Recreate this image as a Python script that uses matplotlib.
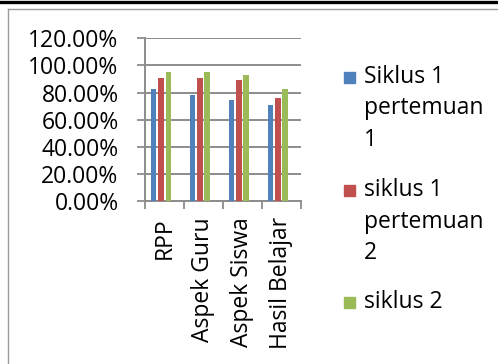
import numpy as np
import matplotlib.pyplot as plt
from matplotlib.lines import Line2D
from matplotlib.patches import Rectangle
from matplotlib.ticker import FuncFormatter

# Data
categories = ['RPP', 'Aspek Guru', 'Aspek Siswa', 'Hasil Belajar']
series_names = ['Siklus 1 pertemuan 1', 'siklus 1 pertemuan 2', 'siklus 2']
legend_lines = [['Siklus 1', 'pertemuan', '1'],
                ['siklus 1', 'pertemuan', '2'],
                ['siklus 2']]
s1p1 = [0.825, 0.785, 0.745, 0.71]
s1p2 = [0.91, 0.91, 0.89, 0.763]
s2 = [0.952, 0.952, 0.932, 0.825]
yticks = [0.0, 0.2, 0.4, 0.6, 0.8, 1.0, 1.2]

colors = ['#4F81BD', '#C0504D', '#9BBB59']
grid_col = '#8C8C8C'
W, H = 498, 364
fs = 16.5

plt.rcParams['font.family'] = ['Open Sans', 'DejaVu Sans']

fig = plt.figure(figsize=(W / 100, H / 100), dpi=100)
fig.patch.set_facecolor('white')

# plot area in pixel coords
x0, x1 = 145, 300.7
y0, y1 = 201.3, 38.3
ax = fig.add_axes([x0 / W, (H - y0) / H, (x1 - x0) / W, (y0 - y1) / H])

x = np.arange(len(categories))
offsets = [-0.278, -0.09, 0.10]
bw = 0.146
for vals, off, c in zip([s1p1, s1p2, s2], offsets, colors):
    ax.bar(x + off, vals, bw, color=c, zorder=3)

ax.set_xlim(-0.5, len(categories) - 0.5)
ax.set_ylim(0, 1.2)
ax.set_yticks(yticks)
ax.yaxis.set_major_formatter(FuncFormatter(lambda v, p: f'{v * 100:.2f}%'))
ax.set_xticks(np.arange(len(categories) + 1) - 0.5)
ax.set_xticklabels([])
ax.set_xticks(x, minor=True)
ax.set_xticklabels(categories, minor=True, rotation=90, fontsize=fs)
ax.tick_params(axis='x', which='minor', length=0, pad=11.5)
ax.tick_params(axis='x', which='major', length=6, width=1.3, color=grid_col)
ax.tick_params(axis='y', length=6, width=1.3, color=grid_col, pad=13, labelsize=fs)
ax.grid(axis='y', color=grid_col, linewidth=1.4, zorder=0)
for s in ['top', 'right']:
    ax.spines[s].set_visible(False)
for s in ['left', 'bottom']:
    ax.spines[s].set_color(grid_col)
    ax.spines[s].set_linewidth(1.4)

# outer frame
fig.add_artist(Line2D([0, 1], [(H - 1.5) / H] * 2, color='black', lw=2.4))
fig.add_artist(Line2D([8.3 / W, 1], [(H - 9) / H] * 2, color='#9A9A9A', lw=1.0))
fig.add_artist(Line2D([8.3 / W] * 2, [(H - 9) / H, 0], color='#9A9A9A', lw=1.0))

# legend
entry_tops = [76.7, 190, 301.7]
line_gap = 31.7
for lines, yc, c in zip(legend_lines, entry_tops, colors):
    fig.add_artist(Rectangle((344 / W, (H - yc - 6) / H), 11 / W, 11 / H,
                             transform=fig.transFigure, color=c))
    for k, t in enumerate(lines):
        fig.text(364 / W, (H - yc - k * line_gap) / H, t, fontsize=fs,
                 va='center', ha='left')

fig.savefig('out.png', dpi=100)
